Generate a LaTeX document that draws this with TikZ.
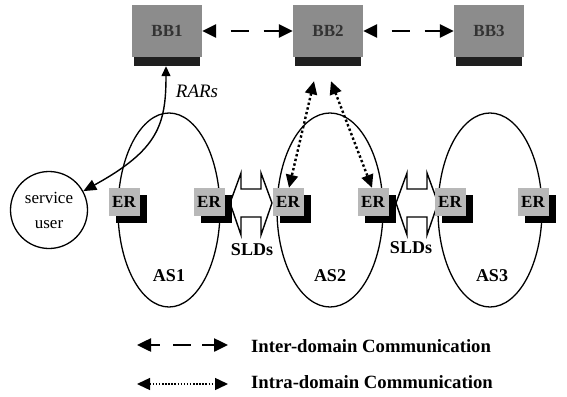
\documentclass[tikz,border=0pt]{standalone}
\usepackage{fontspec}
\setmainfont{Liberation Serif}
\usetikzlibrary{arrows.meta,shadows,shapes.geometric}
\begin{document}
\begin{tikzpicture}[x=1pt,y=-1pt,
  bbbox/.style={fill=black!45, minimum width=70pt, minimum height=52pt, inner sep=0pt,
    font=\fontsize{17}{20}\selectfont\bfseries, text=black!80},
  bbstrip/.style={fill=black!88},
  erbox/.style={fill=black!28, minimum width=31pt, minimum height=28pt, inner sep=0pt,
    font=\fontsize{17}{20}\selectfont\bfseries,
    drop shadow={shadow xshift=7pt, shadow yshift=-7pt, fill=black, opacity=1}},
  asell/.style={ellipse, draw, line width=1.3pt, minimum height=194pt, inner sep=0pt, outer sep=0pt},
  lbl/.style={font=\fontsize{18}{20}\selectfont\bfseries, inner sep=0pt},
  legtext/.style={font=\fontsize{18.7}{21}\selectfont\bfseries, inner sep=0pt, anchor=west},
  interarr/.style={line width=2.5pt, {Triangle[length=14pt,width=13pt]}-{Triangle[length=14pt,width=13pt]}},
  intraarr/.style={line width=2.4pt, {Triangle[length=13pt,width=12pt]}-{Triangle[length=13pt,width=12pt]},
    dash pattern=on 2.4pt off 2.4pt},
  sldshape/.style={draw, fill=white, line width=1.4pt, line join=miter},
  sldarr/.pic={\draw[sldshape] (-21,0) -- (-10,-30) -- (-10,-14) -- (10,-14) -- (10,-30) -- (21,0)
     -- (10,32) -- (10,14) -- (-10,14) -- (-10,32) -- cycle;},
]
\fill[white] (0,0) rectangle (567,396);
\useasboundingbox (0,0) rectangle (567,396);

% autonomous systems
\node[asell, minimum width=102pt] (as1) at (169,210) {};
\node[asell, minimum width=106pt] (as2) at (330,210) {};
\node[asell, minimum width=104pt] (as3) at (490,210) {};
\node[lbl] (as1l) at (169,276) {AS1};
\node[lbl] (as2l) at (330,276) {AS2};
\node[lbl] (as3l) at (492,276) {AS3};

% SLD block arrows
\pic (sldA) at (251,203) {sldarr};
\pic (sldB) at (417,203) {sldarr};
\node[lbl] (sld1l) at (252,250) {SLDs};
\node[lbl] (sld2l) at (411,248) {SLDs};

% bandwidth brokers
\node[bbbox] (bb1) at (167,31) {BB1};
\node[bbbox] (bb2) at (328,31) {BB2};
\node[bbbox] (bb3) at (489,31) {BB3};
\foreach \b in {bb1,bb2,bb3}
  \fill[bbstrip] ([xshift=2pt]\b.south west) rectangle ([xshift=-2pt,yshift=-9pt]\b.south east);

% edge routers
\node[erbox] (er1) at (124,202) {ER};
\node[erbox] (er2) at (209,202) {ER};
\node[erbox] (er3) at (288,202) {ER};
\node[erbox] (er4) at (373,202) {ER};
\node[erbox] (er5) at (450,202) {ER};
\node[erbox] (er6) at (533,202) {ER};

% service user
\node[circle, draw, line width=1.3pt, minimum size=77pt, inner sep=0pt, align=center,
  font=\fontsize{17}{25}\selectfont] (su) at (49,210) {service\\user};

% inter-domain communication
\draw[interarr, dash pattern=on 18pt off 15pt, dash phase=18pt] (bb1.east) -- (bb2.west);
\draw[interarr, dash pattern=on 18pt off 15pt, dash phase=18pt] (bb2.east) -- (bb3.west);

% intra-domain communication
\coordinate (i1) at ([xshift=-14pt,yshift=-24pt]bb2.south);
\coordinate (i2) at ([xshift=3pt,yshift=-24pt]bb2.south);
\draw[intraarr] (i1) -- ([xshift=1pt]er3.north);
\draw[intraarr] (i2) -- ([xshift=-1pt]er4.north);

% RARs
\coordinate (r0) at ([xshift=-1pt,yshift=-9pt]bb1.south);
\draw[line width=1.4pt, {Triangle[length=10pt,width=9pt]}-{Triangle[length=13pt,width=11pt]}]
  (r0) .. controls (166,125) and (158,150) .. (su);
\node[font=\fontsize{19}{22}\selectfont\itshape, inner sep=0pt] (rars) at (197,91) {RARs};

% legend
\coordinate (l1a) at (137,345);
\coordinate (l1b) at (228,345);
\draw[interarr, dash pattern=on 10pt off 13pt on 18pt off 11pt on 12pt off 0pt] (l1a) -- (l1b);
\node[legtext] (t1) at (251,346) {Inter-domain Communication};
\coordinate (l2a) at (137,384);
\coordinate (l2b) at (228,384);
\draw[line width=1.4pt, {Triangle[length=13pt,width=12pt]}-{Triangle[length=13pt,width=12pt]},
  dash pattern=on 1.5pt off 1.6pt] (l2a) -- (l2b);
\node[legtext] (t2) at (251,382) {Intra-domain Communication};
\end{tikzpicture}
\end{document}
